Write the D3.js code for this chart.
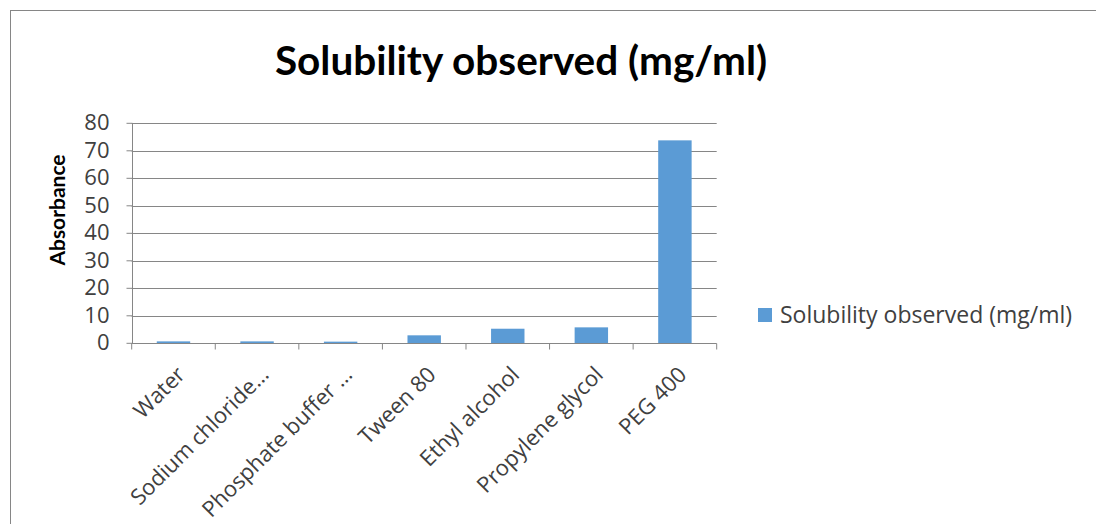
<!DOCTYPE html>
<html>
<head>
<meta charset="utf-8">
<script src="https://cdn.jsdelivr.net/npm/d3@7"></script>
<style>
  body { margin: 0; background: #fff; }
  svg text { font-family: Lato, "Open Sans", sans-serif; }
  .tick-label { font-family: "Open Sans", sans-serif; font-size: 22px; fill: #404040; }
  .legend-text { font-family: "Open Sans", sans-serif; font-size: 23px; fill: #404040; }
</style>
</head>
<body>
<div id="chart"></div>
<script>
const categories = ['Water', 'Sodium chloride\u2026', 'Phosphate buffer \u2026', 'Tween 80', 'Ethyl alcohol', 'Propylene glycol', 'PEG 400'];
const values = [0.7, 0.7, 0.6, 2.9, 5.3, 5.8, 73.8];
const yTicks = [0, 10, 20, 30, 40, 50, 60, 70, 80];
const seriesName = 'Solubility observed (mg/ml)';
const chartTitle = 'Solubility observed (mg/ml)';
const yTitle = 'Absorbance';

const W = 1096, H = 524;
const plot = {left: 131.7, right: 716.7, top: 123.3, bottom: 343.3};
const barColor = '#5B9BD5';
const gridColor = '#868686';

const svg = d3.select('#chart').append('svg')
    .attr('width', W)
    .attr('height', H);

// chart area border
svg.append('rect')
    .attr('x', 10.5).attr('y', 10.5)
    .attr('width', W + 20).attr('height', H + 20)
    .attr('fill', 'none')
    .attr('stroke', gridColor);

const y = d3.scaleLinear().domain([0, 80]).range([plot.bottom, plot.top]);
const x = d3.scaleBand().domain(categories)
    .range([plot.left, plot.right])
    .paddingInner(0.6).paddingOuter(0.3);
const xPos = d3.scaleLinear().domain([0, categories.length]).range([plot.left, plot.right]);

// gridlines
svg.append('g').selectAll('line').data(yTicks.slice(1))
    .enter().append('line')
    .attr('x1', plot.left).attr('x2', plot.right)
    .attr('y1', d => Math.round(y(d)) + 0.5).attr('y2', d => Math.round(y(d)) + 0.5)
    .attr('stroke', gridColor);

// y axis
const yAxis = svg.append('g')
    .attr('transform', `translate(${Math.round(plot.left) + 0.5},0)`)
    .call(d3.axisLeft(y).tickValues(yTicks).tickSize(6).tickSizeOuter(0).tickPadding(17)
        .offset(0));
yAxis.select('.domain').attr('stroke', gridColor);
yAxis.selectAll('.tick line').attr('stroke', gridColor);
yAxis.selectAll('.tick text').attr('class', 'tick-label').attr('font-size', null).attr('font-family', null);

// bars
svg.append('g').selectAll('rect').data(values)
    .enter().append('rect')
    .attr('x', (d, i) => x(categories[i]))
    .attr('y', d => y(d))
    .attr('width', x.bandwidth())
    .attr('height', d => y(0) - y(d))
    .attr('fill', barColor);

// x axis
const xAxis = svg.append('g')
    .attr('transform', `translate(0,${Math.round(plot.bottom) + 0.5})`)
    .call(d3.axisBottom(xPos).tickValues(d3.range(categories.length + 1)).tickFormat('').tickSize(6).tickSizeOuter(0).offset(0));
xAxis.select('.domain').attr('stroke', gridColor);
xAxis.selectAll('.tick line').attr('stroke', gridColor);

// x labels, rotated
svg.append('g').selectAll('text').data(categories)
    .enter().append('text')
    .attr('class', 'tick-label')
    .attr('text-anchor', 'end')
    .attr('transform', d => `translate(${x(d) + x.bandwidth() / 2 + 13},376) rotate(-45)`)
    .text(d => d);

// y axis title
svg.append('text')
    .attr('transform', `translate(65,210) rotate(-90)`)
    .attr('text-anchor', 'middle')
    .attr('font-size', 21)
    .attr('font-weight', 'bold')
    .attr('fill', '#000')
    .text(yTitle);

// title
svg.append('text')
    .attr('x', 521).attr('y', 75)
    .attr('text-anchor', 'middle')
    .attr('font-size', 40.5)
    .attr('font-weight', 'bold')
    .attr('fill', '#000')
    .text(chartTitle);

// legend
const legend = svg.append('g').attr('transform', 'translate(758,308)');
legend.append('rect')
    .attr('width', 14).attr('height', 14)
    .attr('fill', barColor);
legend.append('text')
    .attr('class', 'legend-text')
    .attr('x', 22).attr('y', 15)
    .text(seriesName);
</script>
</body>
</html>
